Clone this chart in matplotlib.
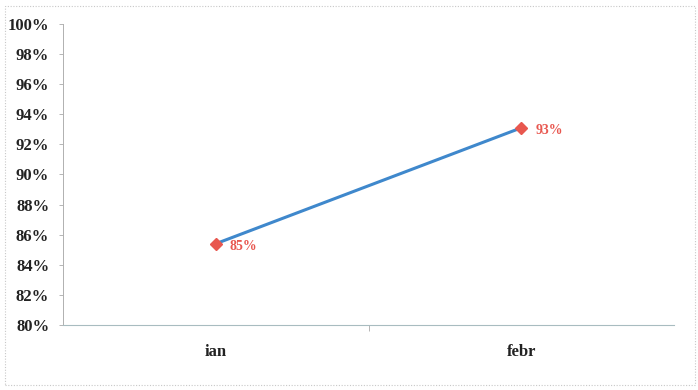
import matplotlib
matplotlib.use("Agg")
import matplotlib.pyplot as plt
from matplotlib.patches import Rectangle
from matplotlib.ticker import FuncFormatter, MultipleLocator

months = ["ian", "febr"]
rates = [0.854, 0.931]
labels = ["85%", "93%"]

fig = plt.figure(figsize=(6.98, 3.90), dpi=100)
fig.patch.set_facecolor("white")
fig.patches.append(Rectangle((0.007, 0.012), 0.988, 0.972, transform=fig.transFigure,
                             fill=False, edgecolor="#c8c8c8", linewidth=0.8,
                             linestyle=(0, (1, 1.5))))

ax = fig.add_axes([0.0903, 0.1667, 0.8753, 0.7718])
x = list(range(len(months)))
ax.plot(x, rates, color="#3f88cc", linewidth=2.2, zorder=2)
ax.plot(x, rates, linestyle="none", marker="D", markersize=6,
        color="#e8574f", zorder=3)
for xi, yi, lab in zip(x, rates, labels):
    ax.annotate(lab, (xi, yi), xytext=(10, -2), textcoords="offset points",
                color="#e8574f", fontsize=10, fontweight="bold",
                family="Liberation Serif", va="center", ha="left")

ax.set_xlim(-0.5, 1.5)
ax.set_ylim(0.80, 1.00)
ax.yaxis.set_major_locator(MultipleLocator(0.02))
ax.yaxis.set_major_formatter(FuncFormatter(lambda v, p: f"{v*100:.0f}%"))
ax.set_xticks(x)
ax.set_xticklabels(months)
ax.set_xticks([0.5], minor=True)

for lab in ax.get_yticklabels() + ax.get_xticklabels():
    lab.set_family("Liberation Serif")
    lab.set_fontweight("bold")
    lab.set_color("#222222")
for lab in ax.get_yticklabels():
    lab.set_fontsize(12)
for lab in ax.get_xticklabels():
    lab.set_fontsize(12)

ax.tick_params(axis="y", length=3, width=0.6, color="#aaaaaa", pad=7)
ax.tick_params(axis="x", which="major", length=0, pad=14)
ax.tick_params(axis="x", which="minor", length=4, width=0.6, color="#aaaaaa")

for side in ("top", "right"):
    ax.spines[side].set_visible(False)
ax.spines["left"].set_color("#b0b0b0")
ax.spines["left"].set_linewidth(0.7)
ax.spines["bottom"].set_color("#a8bcc0")
ax.spines["bottom"].set_linewidth(0.8)
ax.set_facecolor("white")

fig.savefig("out.png", dpi=100)
